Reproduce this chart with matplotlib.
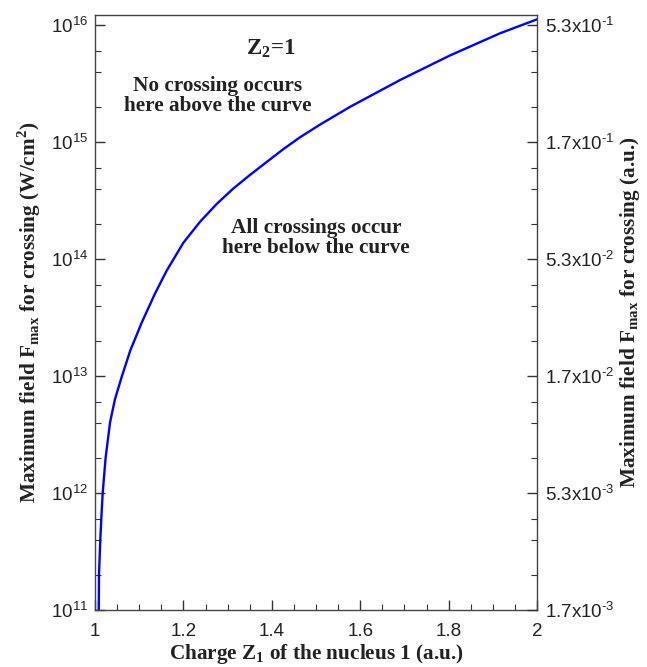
import matplotlib
matplotlib.use("Agg")
import matplotlib.pyplot as plt
from matplotlib.ticker import FixedLocator, NullFormatter

plt.rcParams['mathtext.fontset'] = 'custom'
plt.rcParams['mathtext.rm'] = 'Liberation Serif'
plt.rcParams['mathtext.bf'] = 'Liberation Serif:bold'
plt.rcParams['mathtext.sf'] = 'Liberation Sans'

# data (Z1, maximum intensity in W/cm^2)
z1 = [1.0084, 1.0088, 1.009, 1.0105, 1.012, 1.0145, 1.0174, 1.024, 1.034, 1.045,
      1.061, 1.080, 1.106, 1.135, 1.162, 1.200, 1.238, 1.275, 1.312, 1.351, 1.426,
      1.464, 1.509, 1.577, 1.690, 1.803, 1.916, 2.0]
fmax = [1.0e11, 1.41e11, 2.0e11, 2.82e11, 4.0e11, 6.3e11, 1.0e12, 2.0e12, 4.0e12, 6.3e12,
        1.0e13, 1.66e13, 2.88e13, 5.0e13, 7.94e13, 1.38e14, 2.09e14, 2.95e14, 3.98e14, 5.25e14, 8.7e14,
        1.10e15, 1.41e15, 2.0e15, 3.39e15, 5.5e15, 8.5e15, 1.12e16]

xticks = [1, 1.2, 1.4, 1.6, 1.8, 2]
xticklabels = ["1", "1.2", "1.4", "1.6", "1.8", "2"]
yticks = [1e11, 1e12, 1e13, 1e14, 1e15, 1e16]
yticklabels = [r"$\mathsf{10^{11}}$", r"$\mathsf{10^{12}}$", r"$\mathsf{10^{13}}$",
               r"$\mathsf{10^{14}}$", r"$\mathsf{10^{15}}$", r"$\mathsf{10^{16}}$"]
rticklabels = [r"$\mathsf{1.7x10^{‐3}}$", r"$\mathsf{5.3x10^{‐3}}$", r"$\mathsf{1.7x10^{‐2}}$",
               r"$\mathsf{5.3x10^{‐2}}$", r"$\mathsf{1.7x10^{‐1}}$", r"$\mathsf{5.3x10^{‐1}}$"]

fig = plt.figure(figsize=(6.47, 6.67), dpi=100)
ax = fig.add_axes([95/647, 1-610/667, (537-95)/647, (610-15)/667])
ax.plot(z1, fmax, color='#0000ff', lw=1.7)
ax.set_yscale('log')
ax.set_xlim(1, 2)
ax.set_ylim(1e11, 1.22e16)

minor_y = [m * 10**e for e in range(11, 16) for m in (2, 4, 6)]
ax.yaxis.set_major_locator(FixedLocator(yticks))
ax.yaxis.set_minor_locator(FixedLocator(minor_y))
ax.yaxis.set_minor_formatter(NullFormatter())
ax.set_yticklabels(yticklabels)
ax.set_xticks(xticks)
ax.set_xticklabels(xticklabels)
ax.set_xticks([1 + 0.05*i for i in range(21)], minor=True)

ax.tick_params(which='both', direction='in', top=False, right=False, colors='#333333',
               labelcolor='#222222', labelsize=13.5)
ax.tick_params(which='major', length=7, width=1)
ax.tick_params(which='minor', length=4, width=0.8)
ax.tick_params(axis='x', pad=9)
ax.tick_params(axis='y', pad=5)
for s in ax.spines.values():
    s.set_color('#444444')
    s.set_linewidth(1.0)
for lab in ax.get_xticklabels() + ax.get_yticklabels():
    lab.set_family('Liberation Sans')

ax2 = ax.twinx()
ax2.set_yscale('log')
ax2.set_ylim(ax.get_ylim())
ax2.yaxis.set_major_locator(FixedLocator(yticks))
ax2.yaxis.set_minor_locator(FixedLocator(minor_y))
ax2.yaxis.set_minor_formatter(NullFormatter())
ax2.set_yticklabels(rticklabels)
ax2.tick_params(which='both', direction='in', colors='#333333', labelcolor='#222222',
                labelsize=13.5, pad=6)
ax2.tick_params(which='major', length=7, width=1)
ax2.tick_params(which='minor', length=4, width=0.8)
for s in ax2.spines.values():
    s.set_visible(False)

serif = 'Liberation Serif'
fs = 15.3
ax.set_xlabel(r"Charge Z$_{\mathbf{1}}$ of the nucleus 1 (a.u.)", family=serif,
              fontweight='bold', fontsize=fs, color='#222222', labelpad=2)
ax.set_ylabel(r"Maximum field F$_{\mathbf{max}}$ for crossing (W/cm$^{\mathbf{2}}$)",
              family=serif, fontweight='bold', fontsize=fs, color='#222222', labelpad=6)
ax2.set_ylabel(r"Maximum field F$_{\mathbf{max}}$ for crossing (a.u.)",
               family=serif, fontweight='bold', fontsize=fs, color='#222222', labelpad=2)

def px(xp, yp):
    return ((xp - 95) / 442, (610 - yp) / 595)

ax.text(*px(271, 49), r"Z$_{\mathbf{2}}$=1", transform=ax.transAxes, ha='center', va='center',
        family=serif, fontweight='bold', fontsize=16.5, color='#222222')
ax.text(*px(218, 96), "No crossing occurs\nhere above the curve", transform=ax.transAxes,
        ha='center', va='center', family=serif, fontweight='bold', fontsize=fs,
        color='#222222', linespacing=1.05)
ax.text(*px(316, 238), "All crossings occur\nhere below the curve", transform=ax.transAxes,
        ha='center', va='center', family=serif, fontweight='bold', fontsize=fs,
        color='#222222', linespacing=1.05)

fig.savefig("out.png", dpi=100)
